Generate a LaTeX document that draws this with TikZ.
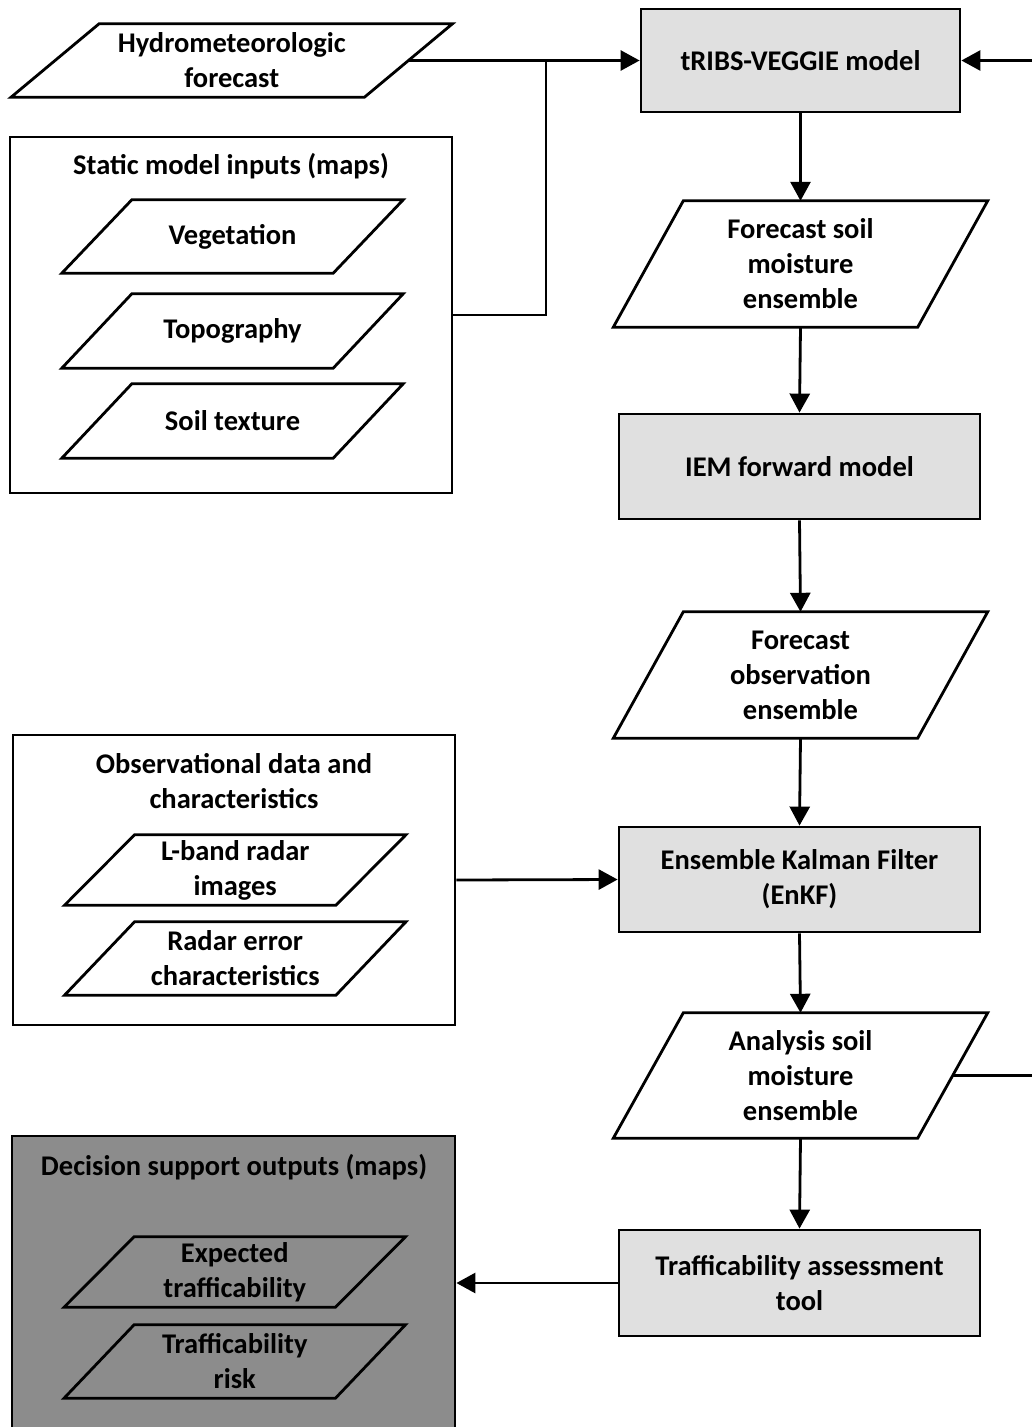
\documentclass[tikz,border=0pt]{standalone}
\usepackage{fontspec}
\setmainfont{Carlito}
\usetikzlibrary{arrows.meta}
\definecolor{lightbox}{HTML}{E0E0E0}
\definecolor{darkbox}{HTML}{8C8C8C}
\tikzset{
  txt/.style={font=\fontsize{28.5}{35}\selectfont\bfseries, align=center, inner sep=0pt},
  procbox/.style={txt, draw, line width=2.8pt, fill=lightbox},
  container/.style={draw, line width=2.8pt, fill=white, inner sep=0pt},
  darkcontainer/.style={draw, line width=2.8pt, fill=darkbox, inner sep=0pt},
  paranode/.style={txt},
  paraline/.style={draw, line width=2.8pt, line join=miter},
  conn/.style={line width=2.8pt},
  arr/.style={conn, -{Triangle[length=19pt,width=20pt]}}
}
\newcommand\paraoutline[2]{\draw[paraline] ([xshift=#2pt]#1.north west) -- ([xshift=#2pt]#1.north east) -- ([xshift=-#2pt]#1.south east) -- ([xshift=-#2pt]#1.south west) -- cycle;}
\begin{document}
\begin{tikzpicture}[x=1pt,y=-1pt]
\clip (0,0) rectangle (1032,1427);
\fill[white] (0,0) rectangle (1032,1427);

% containers
\node[container, minimum width=442pt, minimum height=356pt] (static) at (231,315) {};
\node[txt] (statict) at (231,166) {Static model inputs (maps)};
\node[container, minimum width=442pt, minimum height=290pt] (obs) at (234,880) {};
\node[txt] (obst) at (234,781) {Observational data and\\characteristics};
\node[darkcontainer, minimum width=443pt, minimum height=293pt] (dec) at (233.5,1282.5) {};
\node[txt] (dect) at (234,1167) {Decision support outputs (maps)};

% left parallelograms
\node[paranode, minimum width=353pt, minimum height=73pt] (hyd) at (231.75,60.5) {Hydrometeorologic\\forecast};
\paraoutline{hyd}{44}
\node[paranode, minimum width=271pt, minimum height=73pt] (veg) at (232.5,236.5) {Vegetation};
\paraoutline{veg}{35}
\node[paranode, minimum width=271pt, minimum height=74pt] (topo) at (232.5,331) {Topography};
\paraoutline{topo}{35}
\node[paranode, minimum width=271pt, minimum height=74pt] (soil) at (232.5,421) {Soil texture};
\paraoutline{soil}{35}
\node[paranode, minimum width=271pt, minimum height=70pt] (lband) at (235.25,870) {L-band radar\\images};
\paraoutline{lband}{35}
\node[paranode, minimum width=271pt, minimum height=73pt] (rerr) at (235.25,958.5) {Radar error\\characteristics};
\paraoutline{rerr}{35}
\node[paranode, minimum width=271pt, minimum height=70pt] (exp) at (234.75,1272) {Expected\\trafficability};
\paraoutline{exp}{35}
\node[paranode, minimum width=271pt, minimum height=73pt] (risk) at (234.75,1361.5) {Trafficability\\risk};
\paraoutline{risk}{35}

% main column
\node[procbox, minimum width=319pt, minimum height=103pt] (trib) at (800.5,60.5) {tRIBS-VEGGIE model};
\node[paranode, minimum width=304pt, minimum height=126pt] (fsm) at (800.5,264) {Forecast soil\\moisture\\ensemble};
\paraoutline{fsm}{35}
\node[procbox, minimum width=361pt, minimum height=105pt] (iem) at (799.5,466.5) {IEM forward model};
\node[paranode, minimum width=304pt, minimum height=126pt] (foe) at (800.5,675) {Forecast\\observation\\ensemble};
\paraoutline{foe}{35}
\node[procbox, minimum width=361pt, minimum height=105pt] (enkf) at (799.5,879.5) {Ensemble Kalman Filter\\(EnKF)};
\node[paranode, minimum width=304pt, minimum height=125pt] (ana) at (800.5,1075.5) {Analysis soil\\moisture\\ensemble};
\paraoutline{ana}{35}
\node[procbox, minimum width=361pt, minimum height=106pt] (traf) at (799.5,1283) {Trafficability assessment\\tool};

% connectors
\coordinate (jn) at (546,60.5);
\draw[arr] (hyd.east) -- (trib.west);
\draw[conn] (static.east) -| (jn);
\draw[arr] (trib.south) -- (fsm.north);
\draw[arr] (fsm.south) -- (iem.north);
\draw[arr] (iem.south) -- (foe.north);
\draw[arr] (foe.south) -- (enkf.north);
\draw[arr] (obs.east) -- (enkf.west);
\draw[arr] (enkf.south) -- (ana.north);
\draw[arr] (ana.south) -- (traf.north);
\draw[arr] (traf.west) -- (traf.west -| dec.east);
\coordinate (loopx) at (1050,0);
\draw[arr] (ana.east) -- (ana.east -| loopx) |- (trib.east);
\end{tikzpicture}
\end{document}
